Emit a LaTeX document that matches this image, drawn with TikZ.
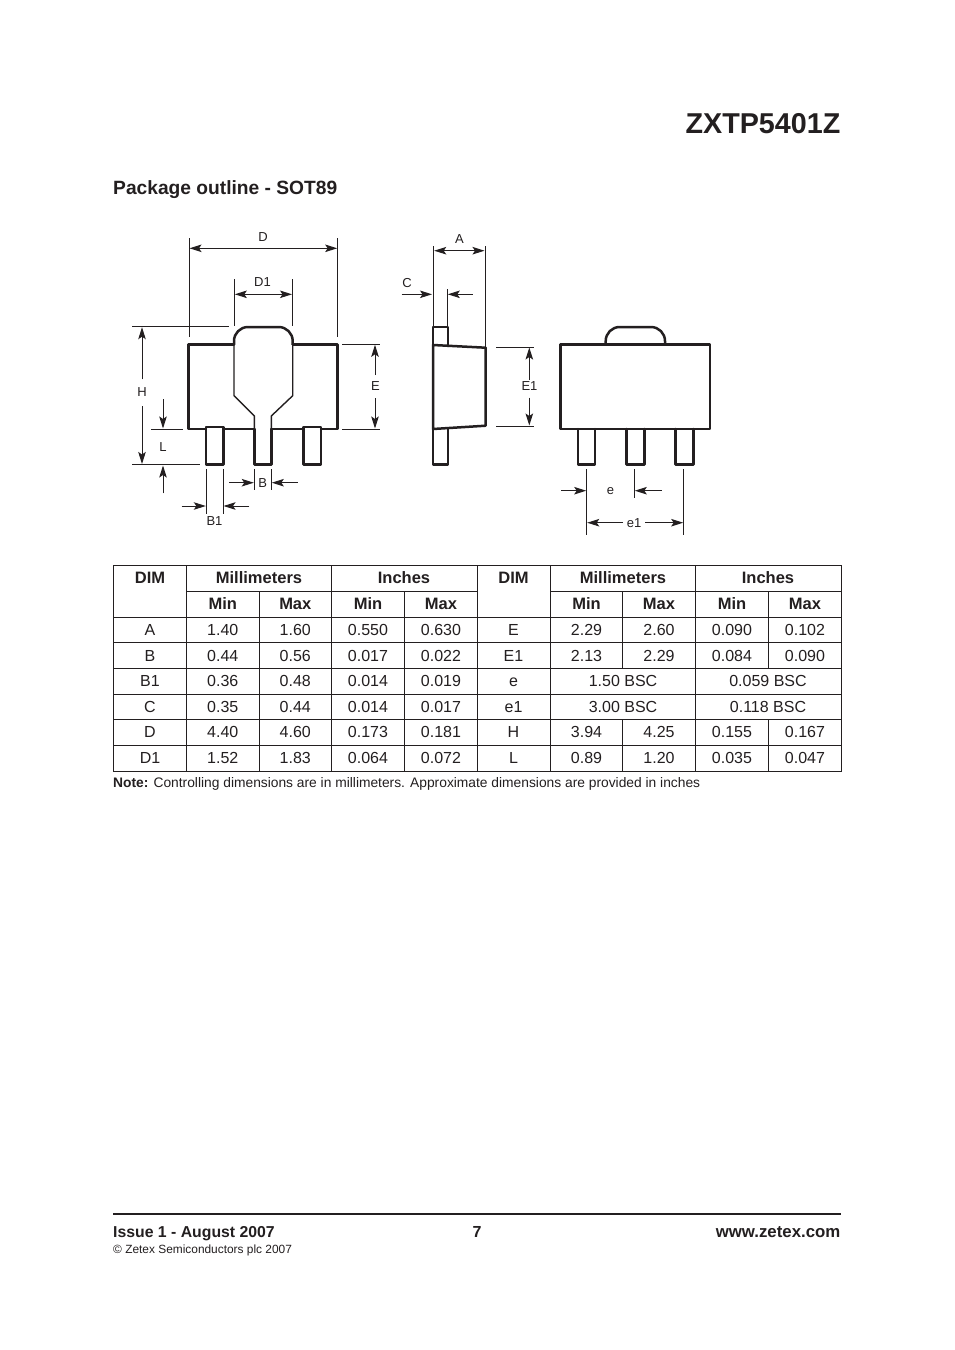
\documentclass[tikz,border=0pt]{standalone}
\usepackage{fontspec}
\setmainfont{Liberation Sans}
\usetikzlibrary{arrows.meta}
\definecolor{ink}{HTML}{231F20}
\newcommand{\fsz}[1]{\fontsize{#1}{#1}\selectfont}
\tikzset{
  thick line/.style={draw=ink,line width=2.5pt,line join=round,line cap=round},
  mid line/.style={draw=ink,line width=1.4pt},
  thin line/.style={draw=ink,line width=1pt},
  dim/.style={draw=ink,line width=1pt,-{Stealth[length=12pt,width=7.5pt,inset=2.5pt]}},
  dimboth/.style={draw=ink,line width=1pt,{Stealth[length=12pt,width=7.5pt,inset=2.5pt]}-{Stealth[length=12pt,width=7.5pt,inset=2.5pt]}},
  lab/.style={inner sep=0pt,text=ink,font=\fsz{13}},
  cell/.style={inner sep=0pt,text=ink,font=\fsz{16}},
  hcell/.style={inner sep=0pt,text=ink,font=\fsz{16.5}\bfseries},
  grid line/.style={draw=ink,line width=1.1pt},
}
\begin{document}
\begin{tikzpicture}[x=1pt,y=-1pt]
\useasboundingbox[fill=white] (0,0) rectangle (954,1350);
% titles
\node[anchor=base east,inner sep=0pt,text=ink,font=\fsz{28.7}\bfseries] (title) at (840.5,133) {ZXTP5401Z};
\node[anchor=base west,inner sep=0pt,text=ink,font=\fsz{19.2}\bfseries] (heading) at (113,194) {Package outline - SOT89};
% FRONT VIEW
\path[thick line] (234,344.3) -- (188.5,344.3) -- (188.5,429) -- (206,429);
\path[thick line] (292.7,344.3) -- (337.7,344.3) -- (337.7,429) -- (321,429);
\path[thick line] (223.3,429) -- (254.3,429);
\path[thick line] (271.3,429) -- (303.3,429);
\path[thick line] (234,344.3) -- (234,341) arc[start angle=180,end angle=270,radius=14] -- (278.7,327) arc[start angle=270,end angle=360,radius=14] -- (292.7,344.3);
\path[mid line] (234,344.3) -- (234,395.7) -- (254.3,416) -- (254.3,429);
\path[mid line] (292.7,344.3) -- (292.7,395.7) -- (271.3,416) -- (271.3,429);
\path[thick line] (206,427) rectangle (223.3,464.5);
\path[thick line] (303.3,427) rectangle (321,464.5);
\path[thick line] (254.3,429) -- (254.3,464.5) -- (271.3,464.5) -- (271.3,429);
% SIDE VIEW
\path[thick line] (433,345) -- (433,327) -- (448,327) -- (448,346);
\path[thick line] (433,345) -- (485.7,347.7) -- (485.7,425.7) -- (433,429) -- cycle;
\path[thick line] (433,429) -- (433,464.7) -- (448,464.7) -- (448,428);
% REAR VIEW
\path[thick line] (560.3,344.3) rectangle (710,429);
\path[thick line] (605.7,344.3) -- (605.7,341) arc[start angle=180,end angle=270,radius=14] -- (651,327) arc[start angle=270,end angle=360,radius=14] -- (665,344.3);
\path[thick line] (578,429) -- (578,464.7) -- (595,464.7) -- (595,429);
\path[thick line] (626.5,429) -- (626.5,464.7) -- (644.3,464.7) -- (644.3,429);
\path[thick line] (675.3,429) -- (675.3,464.7) -- (693.3,464.7) -- (693.3,429);
% DIMENSIONS front
\path[thin line] (189,238.3) -- (189,337.3);
\path[thin line] (337.7,238.3) -- (337.7,337.3);
\path[dimboth] (189.5,248.3) -- (337.2,248.3);
\node[lab] (lD) at (263,237) {D};
\path[thin line] (234.3,279.3) -- (234.3,326);
\path[thin line] (292.5,279.3) -- (292.5,326);
\path[dimboth] (234.8,294.3) -- (292,294.3);
\node[lab] (lD1) at (262.5,282) {D1};
\path[thin line] (132,326.7) -- (228.7,326.7);
\path[thin line] (132,464.5) -- (200,464.5);
\path[dim] (142,379.3) -- (142,327.2);
\path[dim] (142,406) -- (142,464);
\node[lab] (lH) at (142,392) {H};
\path[thin line] (151,429) -- (183.3,429);
\path[dim] (163,399.3) -- (163,428.5);
\path[dim] (163,493.3) -- (163,465.5);
\node[lab] (lL) at (163,447) {L};
\path[thin line] (342.3,344.3) -- (380,344.3);
\path[thin line] (342.3,429) -- (380,429);
\path[dim] (375,375) -- (375,344.8);
\path[dim] (375,398) -- (375,428.5);
\node[lab] (lE) at (375.5,386) {E};
\path[thin line] (254.3,469.3) -- (254.3,490);
\path[thin line] (271.3,469.3) -- (271.3,490);
\path[dim] (229.3,482.7) -- (253.8,482.7);
\path[dim] (297.7,482.7) -- (271.8,482.7);
\node[lab] (lB) at (262.8,483) {B};
\path[thin line] (206.3,469.3) -- (206.3,513.5);
\path[thin line] (223,469.3) -- (223,513.5);
\path[dim] (181.7,506) -- (205.8,506);
\path[dim] (249.3,506) -- (223.5,506);
\node[lab] (lB1) at (214.5,521.5) {B1};
% DIMENSIONS side
\path[thin line] (433.7,246) -- (433.7,345);
\path[thin line] (485,246) -- (485,346.7);
\path[dimboth] (434.2,250.7) -- (484.5,250.7);
\node[lab] (lA) at (459.5,239) {A};
\path[thin line] (447.3,289.3) -- (447.3,326);
\path[dim] (401.7,294.3) -- (432,294.3);
\path[dim] (472.7,294.3) -- (447.8,294.3);
\node[lab] (lC) at (407,283) {C};
\path[thin line] (496,347) -- (534.3,347);
\path[thin line] (496,426) -- (534.3,426);
\path[dim] (529.3,380) -- (529.3,347.5);
\path[dim] (529.3,397.7) -- (529.3,425.5);
\node[lab] (lE1) at (529.5,386.5) {E1};
% DIMENSIONS rear
\path[thin line] (586.7,469.3) -- (586.7,535);
\path[thin line] (634.3,469.3) -- (634.3,498.3);
\path[thin line] (683.7,469.3) -- (683.7,535);
\path[dim] (561.3,490.7) -- (586.2,490.7);
\path[dim] (661.7,490.7) -- (634.8,490.7);
\node[lab] (le) at (610.5,490.7) {e};
\path[dim] (623,522.7) -- (587.2,522.7);
\path[dim] (645,522.7) -- (683.2,522.7);
\node[lab] (le1) at (634,522.7) {e1};
% TABLE grid
\path[grid line] (113.3,565.7) rectangle (841.5,771.3);
\foreach \yy in {617.3,642.8,668.3,694.4,719.5,745.3} \path[grid line] (113.3,\yy) -- (841.5,\yy);
\foreach \a/\b in {186.3/477.7,550.5/841.5} \path[grid line] (\a,591.7) -- (\b,591.7);
\foreach \xx in {186.3,331.3,477.7,550.5,695.5} \path[grid line] (\xx,565.7) -- (\xx,771.3);
\foreach \xx in {259.3,404.7} \path[grid line] (\xx,591.7) -- (\xx,771.3);
\foreach \xx in {622.5,768.5} {
  \path[grid line] (\xx,591.7) -- (\xx,668.3);
  \path[grid line] (\xx,719.5) -- (\xx,771.3);
}
% TABLE headers
\foreach \nm/\xx/\tx in {a/150/DIM,b/259/Millimeters,c/404/Inches,d/513.5/DIM,f/623/Millimeters,g/768/Inches}
  \node[hcell,anchor=base] (h\nm) at (\xx,583) {\tx};
\foreach \nm/\xx/\tx in {a/222.8/Min,b/295.3/Max,c/368/Min,d/441/Max,f/586.5/Min,g/659/Max,h/732/Min,i/805/Max}
  \node[hcell,anchor=base] (s\nm) at (\xx,609.5) {\tx};
% TABLE body
\foreach \r/\yy/\aa/\bb/\cc/\dd/\ee/\ff/\gg/\hh/\ii/\jj in {
  1/635.5/A/1.40/1.60/0.550/0.630/E/2.29/2.60/0.090/0.102,
  2/661/B/0.44/0.56/0.017/0.022/E1/2.13/2.29/0.084/0.090,
  5/737.5/D/4.40/4.60/0.173/0.181/H/3.94/4.25/0.155/0.167,
  6/763/D1/1.52/1.83/0.064/0.072/L/0.89/1.20/0.035/0.047}{
  \node[cell,anchor=base] (ra\r) at (150,\yy) {\aa};
  \node[cell,anchor=base] (rb\r) at (222.8,\yy) {\bb};
  \node[cell,anchor=base] (rc\r) at (295.3,\yy) {\cc};
  \node[cell,anchor=base] (rd\r) at (368,\yy) {\dd};
  \node[cell,anchor=base] (re\r) at (441,\yy) {\ee};
  \node[cell,anchor=base] (rf\r) at (513.5,\yy) {\ff};
  \node[cell,anchor=base] (rg\r) at (586.5,\yy) {\gg};
  \node[cell,anchor=base] (rh\r) at (659,\yy) {\hh};
  \node[cell,anchor=base] (ri\r) at (732,\yy) {\ii};
  \node[cell,anchor=base] (rj\r) at (805,\yy) {\jj};
}
\foreach \r/\yy/\aa/\bb/\cc/\dd/\ee/\ff/\gg/\hh in {
  3/686.5/B1/0.36/0.48/0.014/0.019/e/1.50 BSC/0.059 BSC,
  4/712/C/0.35/0.44/0.014/0.017/e1/3.00 BSC/0.118 BSC}{
  \node[cell,anchor=base] (ra\r) at (150,\yy) {\aa};
  \node[cell,anchor=base] (rb\r) at (222.8,\yy) {\bb};
  \node[cell,anchor=base] (rc\r) at (295.3,\yy) {\cc};
  \node[cell,anchor=base] (rd\r) at (368,\yy) {\dd};
  \node[cell,anchor=base] (re\r) at (441,\yy) {\ee};
  \node[cell,anchor=base] (rf\r) at (513.5,\yy) {\ff};
  \node[cell,anchor=base] (rg\r) at (623,\yy) {\gg};
  \node[cell,anchor=base] (rh\r) at (768,\yy) {\hh};
}
% Note
\node[anchor=base west,inner sep=0pt,text=ink,font=\fsz{13.8}] (note) at (113,787) {\textbf{Note:} Controlling dimensions are in millimeters. Approximate dimensions are provided in inches};
% Footer
\coordinate (fl) at (113,1213.5);
\coordinate (fr) at (840.5,1213.5);
\path[draw=ink,line width=2pt] (fl) -- (fr);
\node[anchor=base west,inner sep=0pt,text=ink,font=\fsz{15.8}\bfseries] (issue) at (113,1237) {Issue 1 - August 2007};
\node[anchor=base,inner sep=0pt,text=ink,font=\fsz{16}\bfseries] (page) at (477,1237) {7};
\node[anchor=base east,inner sep=0pt,text=ink,font=\fsz{16.8}\bfseries] (web) at (840.5,1237) {www.zetex.com};
\node[anchor=base west,inner sep=0pt,text=ink,font=\fsz{11.9}] (copy) at (113,1253) {© Zetex Semiconductors plc 2007};
\end{tikzpicture}
\end{document}
